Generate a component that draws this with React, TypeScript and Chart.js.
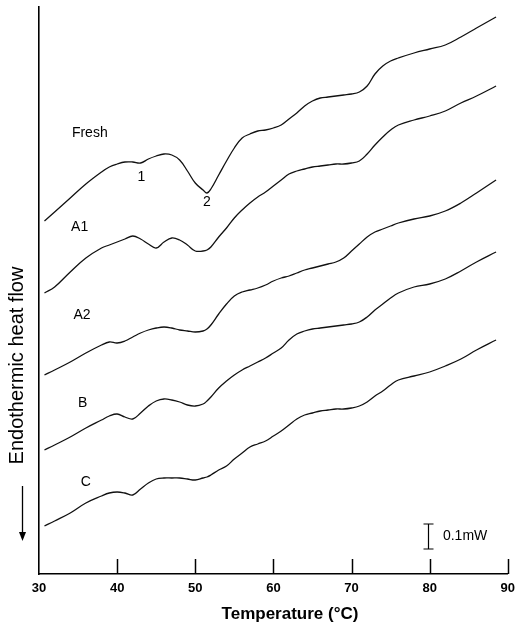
import React, { useEffect, useRef } from 'react';
import { Chart, registerables } from 'chart.js';

Chart.register(...registerables);

// Temperature (°C)
const temperature = [
  30.7, 32, 34, 36, 38, 39, 40, 41, 42, 43, 44, 45, 46, 47, 48, 49, 50, 51, 51.5, 52,
  53, 54, 55, 56, 57, 58, 59, 60, 61, 62, 63, 64, 65, 66, 67, 68, 69, 70, 71, 72,
  73, 74, 75, 76, 78, 80, 82, 84, 86, 88.5,
];

// Endothermic heat flow, offset curves (a.u.; 25 units = 0.1 mW)
const fresh = [
  353, 362, 376, 390, 402, 407, 410, 412, 412, 411, 415, 418, 420, 419, 414, 403, 391, 384, 381, 385,
  399, 413, 426, 436, 440, 443, 444, 446, 449, 455, 461, 468, 473, 476, 477, 478, 479, 480, 482, 488,
  500, 508, 513, 516, 521, 525, 529, 537, 546, 557,
];
const a1 = [
  281, 287, 302, 316, 326, 329, 332, 335, 338, 335, 330, 326, 332, 336, 334, 329, 323, 323, 324, 327,
  337, 346, 356, 364, 371, 377, 382, 388, 394, 400, 403, 405, 407, 408, 409, 410, 410, 411, 413, 420,
  429, 437, 444, 449, 454, 458, 463, 471, 478, 488,
];
const a2 = [
  199, 204, 212, 221, 229, 232, 231, 233, 237, 241, 244, 246, 247, 246, 244, 243, 242, 243, 245, 249,
  260, 270, 278, 282, 284, 286, 289, 293, 296, 298, 301, 304, 306, 308, 310, 312, 316, 323, 330, 337,
  342, 345, 348, 351, 355, 358, 363, 371, 381, 394,
];
const b = [
  124, 129, 137, 146, 154, 158, 160, 157, 155, 161, 168, 173, 175, 174, 172, 169, 168, 170, 173, 177,
  186, 193, 199, 204, 208, 212, 216, 221, 226, 234, 240, 243, 245, 246, 247, 248, 249, 250, 252, 257,
  264, 270, 276, 281, 287, 290, 295, 303, 312, 322,
];
const c = [
  48, 53, 61, 71, 78, 81, 82, 81, 79, 85, 91, 95, 96, 96, 96, 95, 94, 96, 97, 99,
  104, 108, 115, 121, 127, 130, 133, 138, 143, 149, 155, 159, 161, 163, 164, 165, 165, 166, 168, 172,
  178, 183, 189, 194, 198, 202, 208, 215, 224, 234,
];

const seriesNames = ['Fresh', 'A1', 'A2', 'B', 'C'];
const seriesValues = [fresh, a1, a2, b, c];

// Annotation texts anchored in data coordinates (temperature, heat flow)
const curveLabelTexts = ['Fresh', '1', '2', 'A1', 'A2', 'B', 'C'];
const curveLabelT = [36.5, 43.1, 51.5, 35.2, 35.5, 35.6, 36.0];
const curveLabelV = [441, 397, 372, 347, 259, 171, 92];

const xTickValues = [30, 40, 50, 60, 70, 80, 90];
const innerTickValues = [40, 50, 60, 70, 80, 90];
const X_MIN = 30;
const X_MAX = 90;
const Y_MIN = 0;
const Y_MAX = 567;

// Scale bar: 25 units = 0.1 mW
const scaleBarT = 79.8;
const scaleBarFrom = 25;
const scaleBarTo = 50;
const scaleBarLabel = '0.1mW';
const scaleBarLabelT = 81.7;

const xTitle = 'Temperature (°C)';
const yTitle = 'Endothermic heat flow';

const FONT = '"Liberation Sans", Arial, Helvetica, sans-serif';

const annotationPlugin = {
  id: 'dscAnnotations',
  afterDraw(chart: any) {
    const { ctx, chartArea } = chart;
    const x = chart.scales.x;
    const y = chart.scales.y;
    ctx.save();
    ctx.strokeStyle = '#000';
    ctx.fillStyle = '#000';

    // inward tick marks
    ctx.lineWidth = 1.5;
    for (const t of innerTickValues) {
      const px = Math.round(x.getPixelForValue(t)) + 0.5;
      ctx.beginPath();
      ctx.moveTo(px, chartArea.bottom);
      ctx.lineTo(px, chartArea.bottom - 15);
      ctx.stroke();
    }

    // curve labels
    ctx.font = `14px ${FONT}`;
    ctx.textAlign = 'center';
    ctx.textBaseline = 'middle';
    curveLabelTexts.forEach((txt, i) => {
      ctx.fillText(txt, x.getPixelForValue(curveLabelT[i]), y.getPixelForValue(curveLabelV[i]));
    });

    // scale bar
    const sx = Math.round(x.getPixelForValue(scaleBarT)) + 0.5;
    const sy1 = y.getPixelForValue(scaleBarTo);
    const sy2 = y.getPixelForValue(scaleBarFrom);
    ctx.lineWidth = 1.2;
    ctx.beginPath();
    ctx.moveTo(sx, sy1);
    ctx.lineTo(sx, sy2);
    ctx.moveTo(sx - 5, sy1);
    ctx.lineTo(sx + 5, sy1);
    ctx.moveTo(sx - 5, sy2);
    ctx.lineTo(sx + 5, sy2);
    ctx.stroke();
    ctx.textAlign = 'left';
    ctx.fillText(scaleBarLabel, x.getPixelForValue(scaleBarLabelT), (sy1 + sy2) / 2);

    // x axis title
    ctx.font = `bold 17px ${FONT}`;
    ctx.textAlign = 'center';
    ctx.textBaseline = 'alphabetic';
    ctx.fillText(xTitle, chartArea.left + 251, chartArea.bottom + 45);

    // y axis title (rotated) with downward arrow
    const yc = (chartArea.top + chartArea.bottom) / 2 + 75;
    ctx.save();
    ctx.translate(chartArea.left - 22, yc);
    ctx.rotate(-Math.PI / 2);
    ctx.font = `20px ${FONT}`;
    ctx.textAlign = 'center';
    ctx.textBaseline = 'middle';
    ctx.fillText(yTitle, 0, 0);
    ctx.restore();

    const ax = chartArea.left - 16.5;
    const ay1 = chartArea.bottom - 88;
    const ay2 = chartArea.bottom - 33;
    ctx.lineWidth = 1.3;
    ctx.beginPath();
    ctx.moveTo(ax, ay1);
    ctx.lineTo(ax, ay2 - 6);
    ctx.stroke();
    ctx.beginPath();
    ctx.moveTo(ax, ay2);
    ctx.lineTo(ax - 3.5, ay2 - 9);
    ctx.lineTo(ax + 3.5, ay2 - 9);
    ctx.closePath();
    ctx.fill();

    ctx.restore();
  },
};

export default function App() {
  const canvasRef = useRef<HTMLCanvasElement | null>(null);

  useEffect(() => {
    if (!canvasRef.current) return;
    const datasets = seriesNames.map((name, i) => ({
      label: name,
      data: temperature.map((t, j) => ({ x: t, y: seriesValues[i][j] })),
      borderColor: '#111',
      borderWidth: 1.3,
      pointRadius: 0,
      fill: false,
      tension: 0.4,
    }));

    const chart = new Chart(canvasRef.current, {
      type: 'line',
      data: { datasets },
      options: {
        responsive: false,
        animation: false,
        devicePixelRatio: 1,
        layout: { padding: { top: 7, right: 12, left: 0, bottom: 0 } },
        plugins: {
          legend: { display: false },
          tooltip: { enabled: false },
          title: { display: false },
        },
        scales: {
          x: {
            type: 'linear',
            min: X_MIN,
            max: X_MAX,
            afterFit: (s: any) => {
              s.height = 52;
            },
            afterBuildTicks: (s: any) => {
              s.ticks = xTickValues.map((v) => ({ value: v }));
            },
            grid: { display: false, drawTicks: false },
            border: { display: true, color: '#000', width: 1.6 },
            ticks: {
              padding: 7,
              color: '#000',
              font: { family: FONT, size: 13, weight: 'bold' },
              maxRotation: 0,
            },
          },
          y: {
            type: 'linear',
            min: Y_MIN,
            max: Y_MAX,
            afterFit: (s: any) => {
              s.width = 39;
            },
            grid: { display: false, drawTicks: false },
            border: { display: true, color: '#000', width: 1.6 },
            ticks: { display: false },
          },
        },
      },
      plugins: [annotationPlugin],
    });
    return () => chart.destroy();
  }, []);

  return (
    <div style={{ position: 'fixed', left: 0, top: 0, width: 522, height: 626, background: '#fff' }}>
      <canvas ref={canvasRef} width={522} height={626} style={{ display: 'block' }} />
    </div>
  );
}
